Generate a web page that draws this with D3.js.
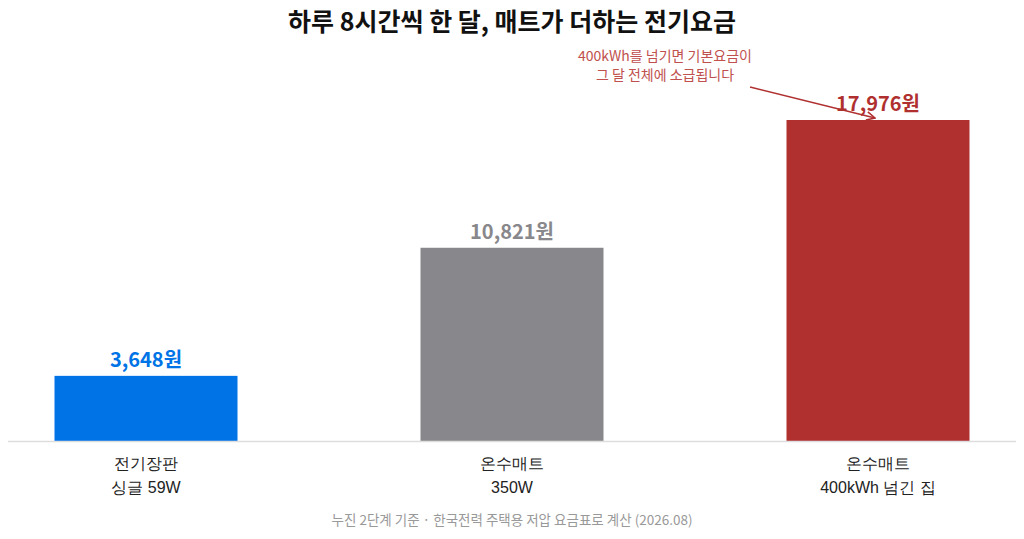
<!DOCTYPE html>
<html>
<head>
<meta charset="utf-8">
<script src="https://cdn.jsdelivr.net/npm/d3@7"></script>
<style>
  body { margin: 0; background: #fff; }
  svg { display: block; font-family: "Noto Sans CJK KR", "Noto Sans", sans-serif; }
</style>
</head>
<body>
<main></main>
<script>
// Data
const categories = ["전기장판|싱글 59W", "온수매트|350W", "온수매트|400kWh 넘긴 집"];
const values = [3648, 10821, 17976];
const colors = ["#0073e6", "#88878b", "#b03030"];
const data = categories.map((c, i) => ({ cat: c, value: values[i], color: colors[i] }));

// Dimensions
const width = 1024;
const height = 539;
const baseY = 441;

const svg = d3.select("main")
  .append("svg")
  .attr("width", width)
  .attr("height", height);

// Scales
const xScale = d3.scaleBand()
  .domain(categories)
  .range([-37, 1061])
  .paddingInner(0.5)
  .paddingOuter(0.25);

const yScale = d3.scaleLinear()
  .domain([0, 17976])
  .range([baseY, 120]);

// Title
svg.append("text")
  .attr("x", width / 2)
  .attr("y", 31)
  .attr("text-anchor", "middle")
  .attr("font-size", 25)
  .attr("font-weight", 700)
  .attr("fill", "#111")
  .text("하루 8시간씩 한 달, 매트가 더하는 전기요금");

// Bars
svg.selectAll(".bar")
  .data(data)
  .enter()
  .append("rect")
  .attr("class", "bar")
  .attr("x", d => xScale(d.cat))
  .attr("y", d => yScale(d.value))
  .attr("width", xScale.bandwidth())
  .attr("height", d => baseY - yScale(d.value))
  .attr("fill", d => d.color);

// Value labels
svg.selectAll(".val")
  .data(data)
  .enter()
  .append("text")
  .attr("class", "val")
  .attr("x", d => xScale(d.cat) + xScale.bandwidth() / 2)
  .attr("y", d => yScale(d.value) - 9)
  .attr("text-anchor", "middle")
  .attr("font-size", 20)
  .attr("font-weight", 700)
  .attr("fill", d => d.color)
  .text(d => d3.format(",")(d.value) + "원");

// Baseline
svg.append("line")
  .attr("x1", 8)
  .attr("x2", 1016)
  .attr("y1", baseY + 0.5)
  .attr("y2", baseY + 0.5)
  .attr("stroke", "#dddddd")
  .attr("stroke-width", 1.5);

// Category labels
const xAxis = d3.axisBottom(xScale).tickSize(0).tickFormat("");
const axisG = svg.append("g")
  .attr("transform", `translate(0,${baseY})`)
  .call(xAxis);
axisG.select(".domain").remove();
axisG.selectAll(".tick").each(function(d) {
  const parts = d.split("|");
  const t = d3.select(this).append("text")
    .attr("fill", "#222")
    .attr("font-size", 16)
    .attr("text-anchor", "middle");
  parts.forEach((p, i) => {
    t.append("tspan").attr("x", 0).attr("y", 28 + i * 24).text(p);
  });
});

// Annotation
const ann = svg.append("text")
  .attr("x", 665)
  .attr("text-anchor", "middle")
  .attr("font-size", 14)
  .attr("fill", "#c0504d");
ann.append("tspan").attr("x", 665).attr("y", 61).text("400kWh를 넘기면 기본요금이");
ann.append("tspan").attr("x", 665).attr("y", 80).text("그 달 전체에 소급됩니다");

svg.append("defs").append("marker")
  .attr("id", "arr")
  .attr("viewBox", "0 0 10 10")
  .attr("refX", 9)
  .attr("refY", 5)
  .attr("markerWidth", 7)
  .attr("markerHeight", 7)
  .attr("orient", "auto")
  .append("path")
  .attr("d", "M1,1 L9,5 L1,9")
  .attr("fill", "none")
  .attr("stroke", "#b03030")
  .attr("stroke-width", 1.5);

svg.append("line")
  .attr("x1", 750)
  .attr("y1", 87)
  .attr("x2", xScale(categories[2]) + xScale.bandwidth() / 2 - 3)
  .attr("y2", yScale(values[2]) - 2)
  .attr("stroke", "#b03030")
  .attr("stroke-width", 1.5)
  .attr("marker-end", "url(#arr)");

// Footer
svg.append("text")
  .attr("x", width / 2)
  .attr("y", 525)
  .attr("text-anchor", "middle")
  .attr("font-size", 13.5)
  .attr("fill", "#999")
  .text("누진 2단계 기준 · 한국전력 주택용 저압 요금표로 계산 (2026.08)");
</script>
</body>
</html>
